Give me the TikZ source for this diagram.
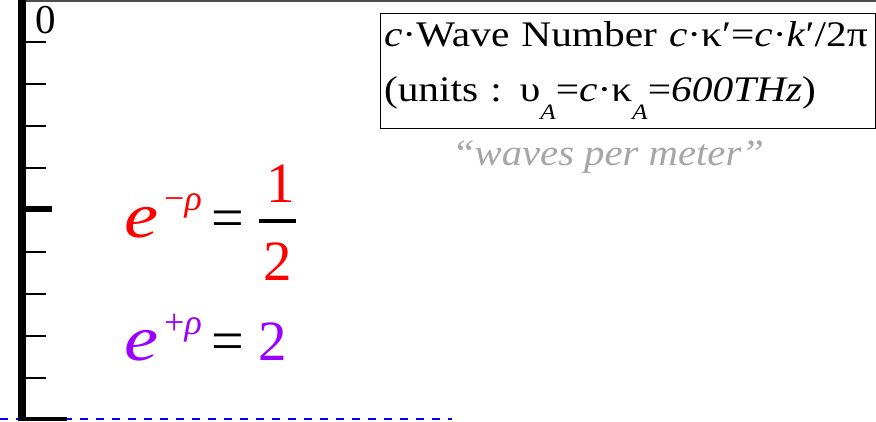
\documentclass[tikz,border=0pt]{standalone}
\usepackage{fontspec}
\setmainfont{Liberation Serif}
\newfontfamily\boxfont[FakeStretch=1.15]{Liberation Serif}
\newfontfamily\hintfont[FakeStretch=1.1]{Liberation Serif}
\newfontfamily\efont[FakeStretch=1.2]{Liberation Serif}
\usepackage{tikz}
\usetikzlibrary{positioning}
\definecolor{wavepurple}{RGB}{153,0,255}
\definecolor{topgray}{gray}{0.3}
\newcommand{\subA}{\raisebox{-18pt}{\fontsize{22}{22}\selectfont\textit{A}}}
\tikzset{
    axisbar/.style={line width=8pt, black},
    minortick/.style={line width=1.2pt, black},
    majortick/.style={line width=6pt, black},
    unitsbox/.style={draw, line width=1pt, align=left, text width=487pt, inner xsep=4pt, inner ysep=0pt, minimum height=115pt, font=\boxfont\fontsize{36}{55}\selectfont},
    hintlbl/.style={anchor=base, inner sep=0pt, text=black!35, font=\hintfont\itshape\fontsize{37}{40}\selectfont},
    ebase/.style={anchor=base west, inner sep=0pt, font=\efont\itshape\fontsize{64}{64}\selectfont},
    supl/.style={anchor=base west, inner sep=0pt, font=\fontsize{36}{36}\selectfont},
    eqsign/.style={anchor=base west, inner sep=0pt, font=\fontsize{58}{58}\selectfont},
    digitlbl/.style={inner sep=0pt, font=\fontsize{57}{57}\selectfont},
    fracbar/.style={line width=4.5pt, black},
    zerolbl/.style={anchor=base, inner sep=0pt, font=\fontsize{41}{44}\selectfont},
    baseline/.style={blue, line width=2pt, dash pattern=on 8pt off 8pt},
}
\begin{document}
\begin{tikzpicture}[x=1pt, y=-1pt]
    \useasboundingbox (0,0) rectangle (876,421);
    % frame line and dashed base
    \draw[topgray, line width=2pt] (25,1) -- (876,1);
    \coordinate (dashL) at (0,419);
    \coordinate (dashR) at (452,419);
    \draw[baseline] (dashL) -- (dashR);
    % scale
    \coordinate (axtop) at (22,0);
    \coordinate (axbot) at (22,421);
    \draw[axisbar] (axtop) -- (axbot);
    \foreach \k in {1,2,3,4,6,7,8,9}
        \draw[minortick] (26,42*\k) -- (46,42*\k);
    \draw[majortick] (26,209) -- (52,209);
    \draw[line width=4pt] (18,419) -- (67,419);
    \node[zerolbl] (zero) at (46,33) {0};
    % units box
    \node[unitsbox] (units) at (627.5,70.5) {\textit{c}·Wave Number \textit{c}·κ′=\textit{c}·\textit{k}′/2π\\
        (units : υ\subA=\textit{c}·κ\subA=\textit{600THz})};
    \node[hintlbl] (perm) at (608,165) {“waves per meter”};
    % e^{-rho} = 1/2
    \node[ebase, text=red] (e1) at (124,237) {e};
    \node[supl, text=red] (s1) at (164,210) {−\textit{ρ}};
    \node[eqsign] (q1) at (211,237) {=};
    \node[digitlbl, text=red, anchor=base] (num1) at (281,202) {1};
    \node[digitlbl, text=red, anchor=base] (den1) at (278,280) {2};
    \coordinate (barL) at (259,221);
    \coordinate (barR) at (296,221);
    \draw[fracbar] (barL) -- (barR);
    % e^{+rho} = 2
    \node[ebase, text=wavepurple] (e2) at (124,360) {e};
    \node[supl, text=wavepurple] (s2) at (164,334) {+\textit{ρ}};
    \node[eqsign] (q2) at (211,360) {=};
    \node[digitlbl, text=wavepurple, anchor=base west] (two) at (258,360) {2};
\end{tikzpicture}
\end{document}
